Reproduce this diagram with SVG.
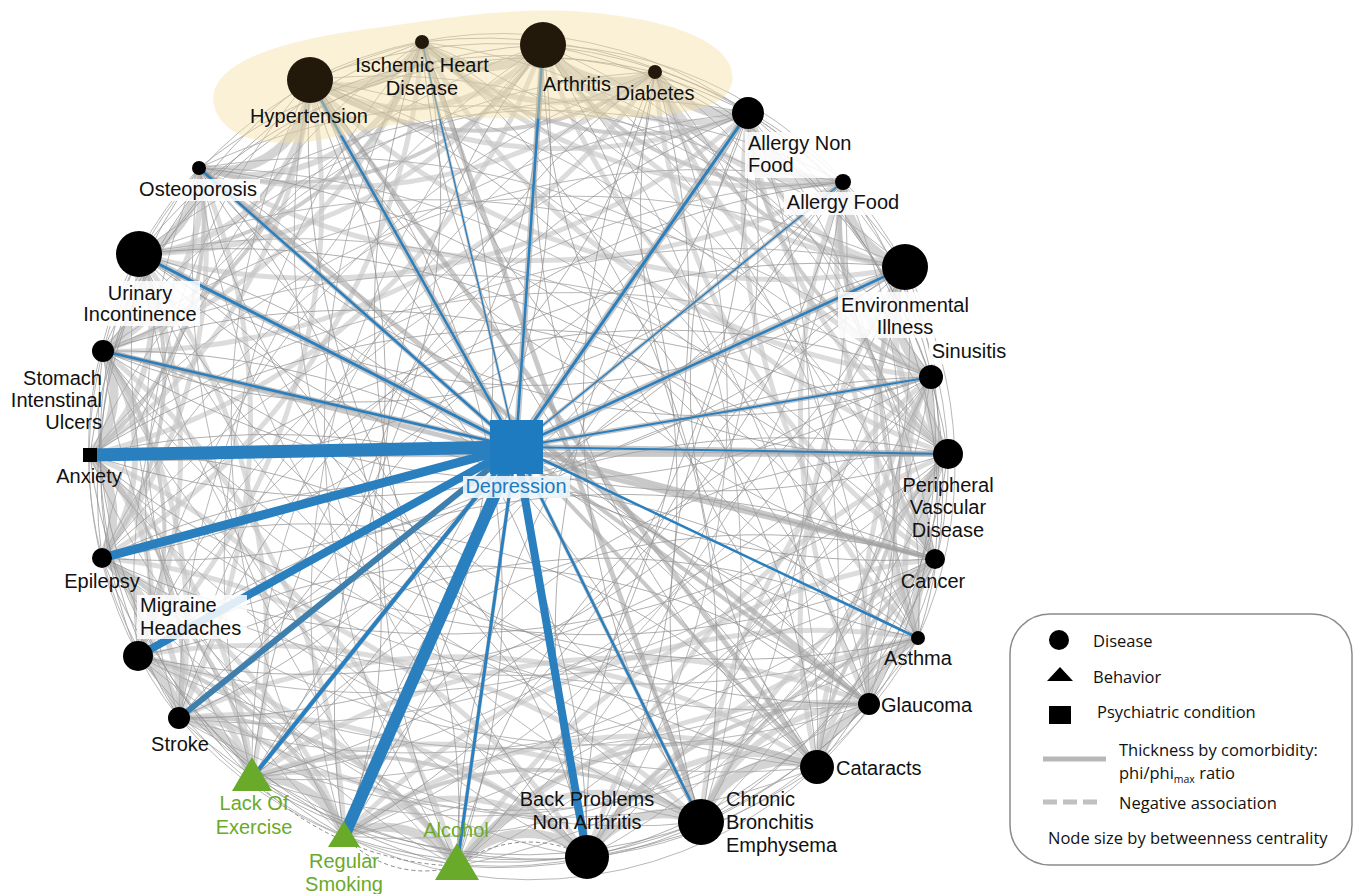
<svg xmlns="http://www.w3.org/2000/svg" width="1358" height="894" viewBox="0 0 1358 894">
<style>
text{font-family:"Liberation Sans",Arial,sans-serif;font-size:20px;fill:#111}
.c{text-anchor:middle}
.r{text-anchor:end}
.gt{fill:#6aaa2a}
.dt{fill:#1f7bc0}
.lg{font-family:"Open Sans","Noto Sans",sans-serif;font-size:16.5px;fill:#111}
.e1{fill:none;stroke:#c6c6c6;stroke-width:9;stroke-opacity:.75}
.e2{fill:none;stroke:#cbcbcb;stroke-width:6;stroke-opacity:.7}
.e3{fill:none;stroke:#b9b9b9;stroke-width:4;stroke-opacity:.7}
.e4{fill:none;stroke:#c4c4c4;stroke-width:5;stroke-opacity:.6}
.t{fill:none;stroke:#8a8a8a;stroke-width:.8;stroke-opacity:.85}
.t2{fill:none;stroke:#a6a6a6;stroke-width:1;stroke-opacity:.8}
.dash{fill:none;stroke:#8a8a8a;stroke-width:1;stroke-dasharray:4 3}
.m{fill:none;stroke:#9c9c9c;stroke-width:5;stroke-opacity:.55}
.gb{fill:none;stroke:#a3a3a3;stroke-opacity:.6}
.b{fill:none;stroke:#2a7fbf}
.n{fill:#000}
.nt{fill:#22190b}
.tri{fill:#6aaa2a}
.bg{fill:#fff;fill-opacity:.85}
</style>
<g id="connectors">
<g id="rim1" class="e1">
<path d="M310 80A90 90 0 0 0 422 42"/><path d="M422 42A90 90 0 0 0 543 45"/><path d="M543 45A90 90 0 0 0 655 72"/><path d="M655 72A90 90 0 0 0 748 113"/><path d="M748 113A90 90 0 0 0 843 182"/><path d="M843 182A90 90 0 0 0 905 267"/><path d="M905 267A90 90 0 0 0 931 377"/><path d="M931 377A90 90 0 0 0 948 454"/><path d="M948 454A90 90 0 0 0 935 559"/><path d="M935 559A90 90 0 0 0 918 638"/><path d="M918 638A90 90 0 0 0 869 704"/><path d="M869 704A90 90 0 0 0 817 767"/><path d="M817 767A90 90 0 0 0 701 822"/><path d="M701 822A90 90 0 0 0 587 857"/><path d="M587 857A90 90 0 0 0 457 866"/><path d="M457 866A90 90 0 0 0 344 836"/><path d="M344 836A90 90 0 0 0 252 778"/><path d="M252 778A90 90 0 0 0 179 718"/><path d="M179 718A90 90 0 0 0 138 656"/><path d="M138 656A90 90 0 0 0 102 558"/><path d="M102 558A90 90 0 0 0 90 455"/><path d="M90 455A90 90 0 0 0 103 351"/><path d="M103 351A90 90 0 0 0 139 254"/><path d="M139 254A90 90 0 0 0 199 168"/><path d="M199 168A90 90 0 0 0 310 80"/>
</g>
<g id="rim2" class="e2">
<path d="M310 80A180 180 0 0 0 543 45"/><path d="M422 42A180 180 0 0 0 655 72"/><path d="M543 45A180 180 0 0 0 748 113"/><path d="M655 72A180 180 0 0 0 843 182"/><path d="M748 113A180 180 0 0 0 905 267"/><path d="M843 182A180 180 0 0 0 931 377"/><path d="M905 267A180 180 0 0 0 948 454"/><path d="M931 377A180 180 0 0 0 935 559"/><path d="M948 454A180 180 0 0 0 918 638"/><path d="M935 559A180 180 0 0 0 869 704"/><path d="M918 638A180 180 0 0 0 817 767"/><path d="M869 704A180 180 0 0 0 701 822"/><path d="M817 767A180 180 0 0 0 587 857"/><path d="M701 822A180 180 0 0 0 457 866"/><path d="M587 857A180 180 0 0 0 344 836"/><path d="M457 866A180 180 0 0 0 252 778"/><path d="M344 836A180 180 0 0 0 179 718"/><path d="M252 778A180 180 0 0 0 138 656"/><path d="M179 718A180 180 0 0 0 102 558"/><path d="M138 656A180 180 0 0 0 90 455"/><path d="M102 558A180 180 0 0 0 103 351"/><path d="M90 455A180 180 0 0 0 139 254"/><path d="M103 351A180 180 0 0 0 199 168"/><path d="M139 254A180 180 0 0 0 310 80"/><path d="M199 168A180 180 0 0 0 422 42"/>
</g>
<g id="rim3" class="e3">
<path d="M310 80A300 300 0 0 0 655 72"/><path d="M422 42A300 300 0 0 0 748 113"/><path d="M543 45A300 300 0 0 0 843 182"/><path d="M655 72A300 300 0 0 0 905 267"/><path d="M748 113A300 300 0 0 0 931 377"/><path d="M843 182A300 300 0 0 0 948 454"/><path d="M905 267A300 300 0 0 0 935 559"/><path d="M931 377A300 300 0 0 0 918 638"/><path d="M948 454A300 300 0 0 0 869 704"/><path d="M935 559A300 300 0 0 0 817 767"/><path d="M918 638A300 300 0 0 0 701 822"/><path d="M869 704A300 300 0 0 0 587 857"/><path d="M817 767A300 300 0 0 0 457 866"/><path d="M701 822A300 300 0 0 0 344 836"/><path d="M587 857A300 300 0 0 0 252 778"/><path d="M457 866A300 300 0 0 0 179 718"/><path d="M344 836A300 300 0 0 0 138 656"/><path d="M252 778A300 300 0 0 0 102 558"/><path d="M179 718A300 300 0 0 0 90 455"/><path d="M138 656A300 300 0 0 0 103 351"/><path d="M102 558A300 300 0 0 0 139 254"/><path d="M90 455A300 300 0 0 0 199 168"/><path d="M103 351A300 300 0 0 0 310 80"/><path d="M139 254A300 300 0 0 0 422 42"/><path d="M199 168A300 300 0 0 0 543 45"/>
</g>
<g id="chords4" class="e4">
<path d="M310 80A500 500 0 0 0 748 113"/><path d="M422 42A500 500 0 0 0 843 182"/><path d="M543 45A500 500 0 0 0 905 267"/><path d="M655 72A500 500 0 0 0 931 377"/><path d="M748 113A500 500 0 0 0 948 454"/><path d="M843 182A500 500 0 0 0 935 559"/><path d="M905 267A500 500 0 0 0 918 638"/><path d="M931 377A500 500 0 0 0 869 704"/><path d="M948 454A500 500 0 0 0 817 767"/><path d="M935 559A500 500 0 0 0 701 822"/><path d="M918 638A500 500 0 0 0 587 857"/><path d="M869 704A500 500 0 0 0 457 866"/><path d="M817 767A500 500 0 0 0 344 836"/><path d="M701 822A500 500 0 0 0 252 778"/><path d="M587 857A500 500 0 0 0 179 718"/><path d="M457 866A500 500 0 0 0 138 656"/><path d="M344 836A500 500 0 0 0 102 558"/><path d="M252 778A500 500 0 0 0 90 455"/><path d="M179 718A500 500 0 0 0 103 351"/><path d="M138 656A500 500 0 0 0 139 254"/><path d="M102 558A500 500 0 0 0 199 168"/><path d="M90 455A500 500 0 0 0 310 80"/><path d="M103 351A500 500 0 0 0 422 42"/><path d="M139 254A500 500 0 0 0 543 45"/><path d="M199 168A500 500 0 0 0 655 72"/>
</g>
<g id="chords6" class="e4">
<path d="M310 80A650 650 0 0 0 905 267"/><path d="M422 42A650 650 0 0 0 931 377"/><path d="M543 45A650 650 0 0 0 948 454"/><path d="M655 72A650 650 0 0 0 935 559"/><path d="M748 113A650 650 0 0 0 918 638"/><path d="M843 182A650 650 0 0 0 869 704"/><path d="M905 267A650 650 0 0 0 817 767"/><path d="M931 377A650 650 0 0 0 701 822"/><path d="M948 454A650 650 0 0 0 587 857"/><path d="M935 559A650 650 0 0 0 457 866"/><path d="M918 638A650 650 0 0 0 344 836"/><path d="M869 704A650 650 0 0 0 252 778"/><path d="M817 767A650 650 0 0 0 179 718"/><path d="M701 822A650 650 0 0 0 138 656"/><path d="M587 857A650 650 0 0 0 102 558"/><path d="M457 866A650 650 0 0 0 90 455"/><path d="M344 836A650 650 0 0 0 103 351"/><path d="M252 778A650 650 0 0 0 139 254"/><path d="M179 718A650 650 0 0 0 199 168"/><path d="M138 656A650 650 0 0 0 310 80"/><path d="M102 558A650 650 0 0 0 422 42"/><path d="M90 455A650 650 0 0 0 543 45"/><path d="M103 351A650 650 0 0 0 655 72"/><path d="M139 254A650 650 0 0 0 748 113"/><path d="M199 168A650 650 0 0 0 843 182"/>
</g>
<g id="chords5" class="t">
<path d="M310 80A500 500 0 0 1 843 182"/><path d="M422 42A500 500 0 0 1 905 267"/><path d="M543 45A500 500 0 0 1 931 377"/><path d="M655 72A500 500 0 0 1 948 454"/><path d="M748 113A500 500 0 0 1 935 559"/><path d="M843 182A500 500 0 0 1 918 638"/><path d="M905 267A500 500 0 0 1 869 704"/><path d="M931 377A500 500 0 0 1 817 767"/><path d="M948 454A500 500 0 0 1 701 822"/><path d="M935 559A500 500 0 0 1 587 857"/><path d="M918 638A500 500 0 0 1 457 866"/><path d="M869 704A500 500 0 0 1 344 836"/><path d="M817 767A500 500 0 0 1 252 778"/><path d="M701 822A500 500 0 0 1 179 718"/><path d="M587 857A500 500 0 0 1 138 656"/><path d="M457 866A500 500 0 0 1 102 558"/><path d="M344 836A500 500 0 0 1 90 455"/><path d="M252 778A500 500 0 0 1 103 351"/><path d="M179 718A500 500 0 0 1 139 254"/><path d="M138 656A500 500 0 0 1 199 168"/><path d="M102 558A500 500 0 0 1 310 80"/><path d="M90 455A500 500 0 0 1 422 42"/><path d="M103 351A500 500 0 0 1 543 45"/><path d="M139 254A500 500 0 0 1 655 72"/><path d="M199 168A500 500 0 0 1 748 113"/>
</g>
<g id="chords4t" class="t2">
<path d="M310 80A420 420 0 0 1 748 113"/><path d="M543 45A420 420 0 0 1 905 267"/><path d="M748 113A420 420 0 0 1 948 454"/><path d="M905 267A420 420 0 0 1 918 638"/><path d="M948 454A420 420 0 0 1 817 767"/><path d="M918 638A420 420 0 0 1 587 857"/><path d="M817 767A420 420 0 0 1 344 836"/><path d="M587 857A420 420 0 0 1 179 718"/><path d="M344 836A420 420 0 0 1 102 558"/><path d="M179 718A420 420 0 0 1 103 351"/><path d="M102 558A420 420 0 0 1 199 168"/><path d="M103 351A420 420 0 0 1 422 42"/>
</g>
<g id="chords7" class="t2">
<path d="M310 80A650 650 0 0 1 931 377"/><path d="M422 42A650 650 0 0 1 948 454"/><path d="M543 45A650 650 0 0 1 935 559"/><path d="M655 72A650 650 0 0 1 918 638"/><path d="M748 113A650 650 0 0 1 869 704"/><path d="M843 182A650 650 0 0 1 817 767"/><path d="M905 267A650 650 0 0 1 701 822"/><path d="M931 377A650 650 0 0 1 587 857"/><path d="M948 454A650 650 0 0 1 457 866"/><path d="M935 559A650 650 0 0 1 344 836"/><path d="M918 638A650 650 0 0 1 252 778"/><path d="M869 704A650 650 0 0 1 179 718"/><path d="M817 767A650 650 0 0 1 138 656"/><path d="M701 822A650 650 0 0 1 102 558"/><path d="M587 857A650 650 0 0 1 90 455"/><path d="M457 866A650 650 0 0 1 103 351"/><path d="M344 836A650 650 0 0 1 139 254"/><path d="M252 778A650 650 0 0 1 199 168"/><path d="M179 718A650 650 0 0 1 310 80"/><path d="M138 656A650 650 0 0 1 422 42"/><path d="M102 558A650 650 0 0 1 543 45"/><path d="M90 455A650 650 0 0 1 655 72"/><path d="M103 351A650 650 0 0 1 748 113"/><path d="M139 254A650 650 0 0 1 843 182"/><path d="M199 168A650 650 0 0 1 905 267"/>
</g>
<g id="chords8" class="t">
<path d="M310 80A650 650 0 0 0 948 454"/><path d="M422 42A650 650 0 0 0 935 559"/><path d="M543 45A650 650 0 0 0 918 638"/><path d="M655 72A650 650 0 0 0 869 704"/><path d="M748 113A650 650 0 0 0 817 767"/><path d="M843 182A650 650 0 0 0 701 822"/><path d="M905 267A650 650 0 0 0 587 857"/><path d="M931 377A650 650 0 0 0 457 866"/><path d="M948 454A650 650 0 0 0 344 836"/><path d="M935 559A650 650 0 0 0 252 778"/><path d="M918 638A650 650 0 0 0 179 718"/><path d="M869 704A650 650 0 0 0 138 656"/><path d="M817 767A650 650 0 0 0 102 558"/><path d="M701 822A650 650 0 0 0 90 455"/><path d="M587 857A650 650 0 0 0 103 351"/><path d="M457 866A650 650 0 0 0 139 254"/><path d="M344 836A650 650 0 0 0 199 168"/><path d="M252 778A650 650 0 0 0 310 80"/><path d="M179 718A650 650 0 0 0 422 42"/><path d="M138 656A650 650 0 0 0 543 45"/><path d="M102 558A650 650 0 0 0 655 72"/><path d="M90 455A650 650 0 0 0 748 113"/><path d="M103 351A650 650 0 0 0 843 182"/><path d="M139 254A650 650 0 0 0 905 267"/><path d="M199 168A650 650 0 0 0 931 377"/>
</g>
<g id="chords9" class="t2">
<path d="M310 80A800 800 0 0 1 935 559"/><path d="M422 42A800 800 0 0 1 918 638"/><path d="M543 45A800 800 0 0 1 869 704"/><path d="M655 72A800 800 0 0 1 817 767"/><path d="M748 113A800 800 0 0 1 701 822"/><path d="M843 182A800 800 0 0 1 587 857"/><path d="M905 267A800 800 0 0 1 457 866"/><path d="M931 377A800 800 0 0 1 344 836"/><path d="M948 454A800 800 0 0 1 252 778"/><path d="M935 559A800 800 0 0 1 179 718"/><path d="M918 638A800 800 0 0 1 138 656"/><path d="M869 704A800 800 0 0 1 102 558"/><path d="M817 767A800 800 0 0 1 90 455"/><path d="M701 822A800 800 0 0 1 103 351"/><path d="M587 857A800 800 0 0 1 139 254"/><path d="M457 866A800 800 0 0 1 199 168"/><path d="M344 836A800 800 0 0 1 310 80"/><path d="M252 778A800 800 0 0 1 422 42"/><path d="M179 718A800 800 0 0 1 543 45"/><path d="M138 656A800 800 0 0 1 655 72"/><path d="M102 558A800 800 0 0 1 748 113"/><path d="M90 455A800 800 0 0 1 843 182"/><path d="M103 351A800 800 0 0 1 905 267"/><path d="M139 254A800 800 0 0 1 931 377"/><path d="M199 168A800 800 0 0 1 948 454"/>
</g>
<g id="chords10" class="t">
<path d="M310 80A800 800 0 0 0 918 638"/><path d="M422 42A800 800 0 0 0 869 704"/><path d="M543 45A800 800 0 0 0 817 767"/><path d="M655 72A800 800 0 0 0 701 822"/><path d="M748 113A800 800 0 0 0 587 857"/><path d="M843 182A800 800 0 0 0 457 866"/><path d="M905 267A800 800 0 0 0 344 836"/><path d="M931 377A800 800 0 0 0 252 778"/><path d="M948 454A800 800 0 0 0 179 718"/><path d="M935 559A800 800 0 0 0 138 656"/><path d="M918 638A800 800 0 0 0 102 558"/><path d="M869 704A800 800 0 0 0 90 455"/><path d="M817 767A800 800 0 0 0 103 351"/><path d="M701 822A800 800 0 0 0 139 254"/><path d="M587 857A800 800 0 0 0 199 168"/><path d="M457 866A800 800 0 0 0 310 80"/><path d="M344 836A800 800 0 0 0 422 42"/><path d="M252 778A800 800 0 0 0 543 45"/><path d="M179 718A800 800 0 0 0 655 72"/><path d="M138 656A800 800 0 0 0 748 113"/><path d="M102 558A800 800 0 0 0 843 182"/><path d="M90 455A800 800 0 0 0 905 267"/><path d="M103 351A800 800 0 0 0 931 377"/><path d="M139 254A800 800 0 0 0 948 454"/><path d="M199 168A800 800 0 0 0 935 559"/>
</g>
<g id="chords11" class="t2">
<path d="M310 80A800 800 0 0 1 869 704"/><path d="M422 42A800 800 0 0 1 817 767"/><path d="M543 45A800 800 0 0 1 701 822"/><path d="M655 72A800 800 0 0 1 587 857"/><path d="M748 113A800 800 0 0 1 457 866"/><path d="M843 182A800 800 0 0 1 344 836"/><path d="M905 267A800 800 0 0 1 252 778"/><path d="M931 377A800 800 0 0 1 179 718"/><path d="M948 454A800 800 0 0 1 138 656"/><path d="M935 559A800 800 0 0 1 102 558"/><path d="M918 638A800 800 0 0 1 90 455"/><path d="M869 704A800 800 0 0 1 103 351"/><path d="M817 767A800 800 0 0 1 139 254"/><path d="M701 822A800 800 0 0 1 199 168"/><path d="M587 857A800 800 0 0 1 310 80"/><path d="M457 866A800 800 0 0 1 422 42"/><path d="M344 836A800 800 0 0 1 543 45"/><path d="M252 778A800 800 0 0 1 655 72"/><path d="M179 718A800 800 0 0 1 748 113"/><path d="M138 656A800 800 0 0 1 843 182"/><path d="M102 558A800 800 0 0 1 905 267"/><path d="M90 455A800 800 0 0 1 931 377"/><path d="M103 351A800 800 0 0 1 948 454"/><path d="M139 254A800 800 0 0 1 935 559"/><path d="M199 168A800 800 0 0 1 918 638"/>
</g>
<g id="chords12" class="t">
<path d="M310 80A800 800 0 0 1 817 767"/><path d="M422 42A800 800 0 0 1 701 822"/><path d="M543 45A800 800 0 0 1 587 857"/><path d="M655 72A800 800 0 0 1 457 866"/><path d="M748 113A800 800 0 0 1 344 836"/><path d="M843 182A800 800 0 0 1 252 778"/><path d="M905 267A800 800 0 0 1 179 718"/><path d="M931 377A800 800 0 0 1 138 656"/><path d="M948 454A800 800 0 0 1 102 558"/><path d="M935 559A800 800 0 0 1 90 455"/><path d="M918 638A800 800 0 0 1 103 351"/><path d="M869 704A800 800 0 0 1 139 254"/><path d="M817 767A800 800 0 0 1 199 168"/><path d="M701 822A800 800 0 0 1 310 80"/><path d="M587 857A800 800 0 0 1 422 42"/><path d="M457 866A800 800 0 0 1 543 45"/><path d="M344 836A800 800 0 0 1 655 72"/><path d="M252 778A800 800 0 0 1 748 113"/><path d="M179 718A800 800 0 0 1 843 182"/><path d="M138 656A800 800 0 0 1 905 267"/><path d="M102 558A800 800 0 0 1 931 377"/><path d="M90 455A800 800 0 0 1 948 454"/><path d="M103 351A800 800 0 0 1 935 559"/><path d="M139 254A800 800 0 0 1 918 638"/><path d="M199 168A800 800 0 0 1 869 704"/>
</g>
<g id="negative" class="dash">
<path d="M457 866A120 120 0 0 1 587 857"/><path d="M344 836A110 110 0 0 0 457 866"/><path d="M252 778A300 300 0 0 0 457 866"/>
</g>
<g id="strong-gray" class="m">
<path d="M817 767L310 80"/><path d="M869 704L199 168"/><path d="M935 559L103 351"/><path d="M948 454L90 455"/><path d="M701 822L422 42"/>
</g>
<g id="depression-gray" class="gb">
<path d="M516 447L310 80" stroke-width="7"/><path d="M516 447L422 42" stroke-width="3"/><path d="M516 447L543 45" stroke-width="6"/><path d="M516 447L748 113" stroke-width="7"/><path d="M516 447L843 182" stroke-width="4"/><path d="M516 447L905 267" stroke-width="7"/><path d="M516 447L931 377" stroke-width="5"/><path d="M516 447L948 454" stroke-width="6"/><path d="M516 447L935 559" stroke-width="5"/><path d="M516 447L869 704" stroke-width="4"/><path d="M516 447L817 767" stroke-width="4"/><path d="M516 447L701 822" stroke-width="4"/><path d="M516 447L457 866" stroke-width="4"/><path d="M516 447L252 778" stroke-width="5"/><path d="M516 447L103 351" stroke-width="5"/><path d="M516 447L139 254" stroke-width="7"/><path d="M516 447L199 168" stroke-width="5"/>
</g>
<g id="depression-blue" class="b">
<path d="M516 447L310 80" stroke-width="2.5"/><path d="M516 447L422 42" stroke-width="1.3"/><path d="M516 447L543 45" stroke-width="2.5"/><path d="M516 447L748 113" stroke-width="3"/><path d="M516 447L843 182" stroke-width="1.5"/><path d="M516 447L905 267" stroke-width="2.5"/><path d="M516 447L931 377" stroke-width="2"/><path d="M516 447L948 454" stroke-width="2"/><path d="M516 447L918 638" stroke-width="2.5"/><path d="M516 447L701 822" stroke-width="2.5"/><path d="M516 447L587 857" stroke-width="8"/><path d="M516 447L457 866" stroke-width="3"/><path d="M516 447L344 836" stroke-width="12"/><path d="M516 447L252 778" stroke-width="4"/><path d="M516 447L179 718" stroke-width="6" stroke="#3f7fae"/><path d="M516 447L138 656" stroke-width="8"/><path d="M516 447L102 558" stroke-width="9"/><path d="M516 447L90 455" stroke-width="13"/><path d="M516 447L103 351" stroke-width="2.5"/><path d="M516 447L139 254" stroke-width="3"/><path d="M516 447L199 168" stroke-width="2.5"/>
</g>
</g>
<path id="cluster-highlight" d="M214 105C205 60 290 38 390 26C470 14 540 4 620 16C690 26 738 50 732 82C728 104 700 112 650 116C600 120 520 118 460 118C400 120 360 132 320 140C270 148 222 140 214 105Z" fill="#f3dea0" fill-opacity=".42"/>
<g id="n-hypertension"><circle class="nt" cx="310" cy="80" r="23"/><text class="c" x="309" y="123">Hypertension</text></g>
<g id="n-ischemic"><circle class="nt" cx="422" cy="42" r="7"/><text class="c" x="422" y="72">Ischemic Heart</text><text class="c" x="422" y="95">Disease</text></g>
<g id="n-arthritis"><circle class="nt" cx="543" cy="45" r="23"/><text class="c" x="577" y="91">Arthritis</text></g>
<g id="n-diabetes"><circle class="nt" cx="655" cy="72" r="7"/><text class="c" x="655" y="100">Diabetes</text></g>
<g id="n-allergy-nonfood"><circle class="n" cx="748" cy="113" r="16"/><rect class="bg" x="745" y="132" width="112" height="46"/><text x="748" y="150">Allergy Non</text><text x="748" y="172">Food</text></g>
<g id="n-allergy-food"><circle class="n" cx="843" cy="182" r="8"/><rect class="bg" x="784" y="192" width="118" height="23"/><text class="c" x="843" y="209">Allergy Food</text></g>
<g id="n-environmental"><circle class="n" cx="905" cy="267" r="23"/><rect class="bg" x="838" y="292" width="134" height="46"/><text class="c" x="905" y="312">Environmental</text><text class="c" x="905" y="334">Illness</text></g>
<g id="n-sinusitis"><circle class="n" cx="931" cy="377" r="12"/><rect class="bg" x="929" y="341" width="80" height="23"/><text class="c" x="969" y="358">Sinusitis</text></g>
<g id="n-pvd"><circle class="n" cx="948" cy="454" r="15"/><text class="c" x="948" y="492">Peripheral</text><text class="c" x="948" y="514">Vascular</text><text class="c" x="948" y="537">Disease</text></g>
<g id="n-cancer"><circle class="n" cx="935" cy="559" r="10"/><text class="c" x="933" y="588">Cancer</text></g>
<g id="n-asthma"><circle class="n" cx="918" cy="638" r="7"/><text class="c" x="918" y="665">Asthma</text></g>
<g id="n-glaucoma"><circle class="n" cx="869" cy="704" r="11"/><text x="881" y="712">Glaucoma</text></g>
<g id="n-cataracts"><circle class="n" cx="817" cy="767" r="17"/><text x="836" y="775">Cataracts</text></g>
<g id="n-chronic-bronchitis"><circle class="n" cx="701" cy="822" r="23"/><text x="726" y="806">Chronic</text><text x="726" y="829">Bronchitis</text><text x="726" y="852">Emphysema</text></g>
<g id="n-back-problems"><circle class="n" cx="587" cy="857" r="22"/><text class="c" x="587" y="806">Back Problems</text><text class="c" x="587" y="829">Non Arthritis</text></g>
<g id="n-alcohol"><polygon class="tri" points="457,843 435,880 479,880"/><text class="c gt" x="456" y="837">Alcohol</text></g>
<g id="n-regular-smoking"><polygon class="tri" points="344,821 328,847 360,847"/><text class="c gt" x="344" y="868">Regular</text><text class="c gt" x="344" y="891">Smoking</text></g>
<g id="n-lack-of-exercise"><polygon class="tri" points="252,757 232,791 272,791"/><text class="c gt" x="254" y="810">Lack Of</text><text class="c gt" x="254" y="834">Exercise</text></g>
<g id="n-stroke"><circle class="n" cx="179" cy="718" r="11"/><text class="c" x="180" y="751">Stroke</text></g>
<g id="n-migraine"><circle class="n" cx="138" cy="656" r="15"/><rect class="bg" x="137" y="595" width="110" height="44"/><text x="140" y="612">Migraine</text><text x="140" y="635">Headaches</text></g>
<g id="n-epilepsy"><circle class="n" cx="102" cy="558" r="10"/><text class="c" x="102" y="588">Epilepsy</text></g>
<g id="n-anxiety"><rect class="n" x="83" y="448" width="14" height="14"/><text class="c" x="89" y="483">Anxiety</text></g>
<g id="n-stomach"><circle class="n" cx="103" cy="351" r="11"/><text class="r" x="102" y="385">Stomach</text><text class="r" x="102" y="407">Intenstinal</text><text class="r" x="102" y="429">Ulcers</text></g>
<g id="n-urinary"><circle class="n" cx="139" cy="254" r="23"/><rect class="bg" x="80" y="281" width="120" height="45"/><text class="c" x="140" y="300">Urinary</text><text class="c" x="140" y="321">Incontinence</text></g>
<g id="n-osteoporosis"><circle class="n" cx="199" cy="168" r="7"/><rect class="bg" x="135" y="179" width="125" height="22"/><text class="c" x="198" y="196">Osteoporosis</text></g>
<g id="n-depression"><rect x="490" y="420" width="53" height="54" fill="#1f7bc0"/><rect x="463" y="476" width="107" height="22" fill="#eef6fb" fill-opacity=".9"/><text class="c dt" x="516" y="493">Depression</text></g>
<g id="legend">
<rect x="1010" y="614" width="342" height="251" rx="40" ry="40" fill="#fff" stroke="#8a8a8a" stroke-width="1.5"/>
<circle cx="1059" cy="640" r="10" fill="#000"/><text class="lg" x="1093" y="647">Disease</text>
<polygon points="1060,667 1047,681 1073,681" fill="#000"/><text class="lg" x="1093" y="683">Behavior</text>
<rect x="1049" y="706" width="22" height="18" fill="#000"/><text class="lg" x="1097" y="718">Psychiatric condition</text>
<line x1="1043" y1="759" x2="1106" y2="759" stroke="#b8b8b8" stroke-width="5"/><text class="lg" x="1119" y="756">Thickness by comorbidity:</text>
<text class="lg" x="1119" y="779">phi/phi<tspan font-size="10.5" dy="4">max</tspan><tspan dy="-4"> ratio</tspan></text>
<line x1="1043" y1="802" x2="1097" y2="802" stroke="#c0c0c0" stroke-width="5" stroke-dasharray="14 6"/><text class="lg" x="1119" y="809">Negative association</text>
<text class="lg" x="1048" y="844">Node size by betweenness centrality</text>
</g>
</svg>
